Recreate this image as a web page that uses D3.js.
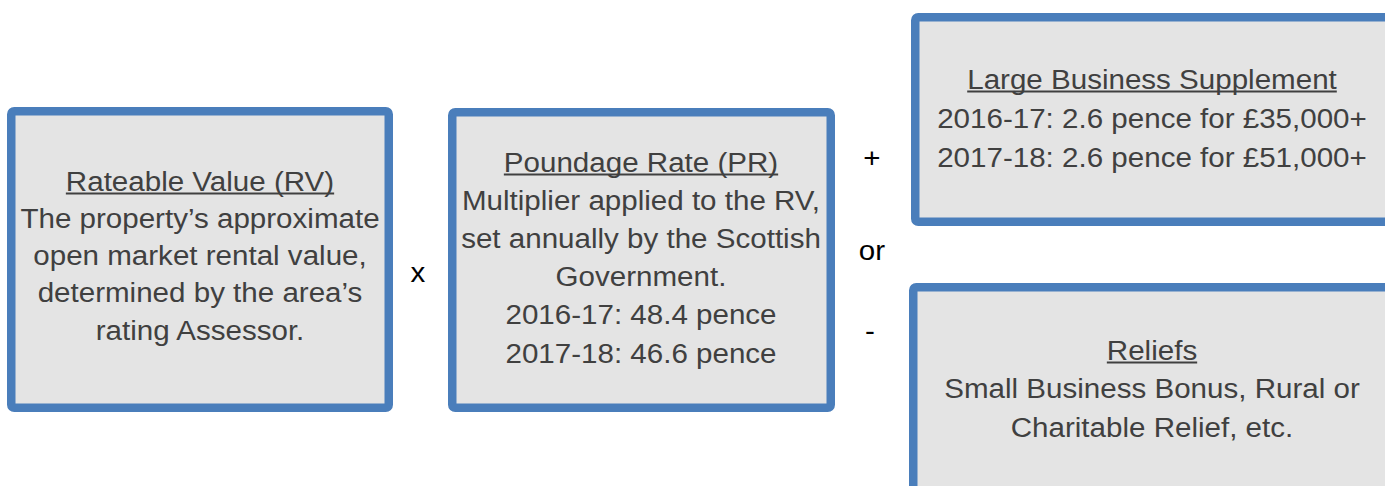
<!DOCTYPE html>
<html>
<head>
<meta charset="utf-8">
<script src="https://cdn.jsdelivr.net/npm/d3@7"></script>
<style>
  body { margin: 0; background: #fff; }
  svg { display: block; }
</style>
</head>
<body>
<div id="chart"></div>
<script>
// box titles and body lines
var titles = ["Rateable Value (RV)", "Poundage Rate (PR)", "Large Business Supplement", "Reliefs"];
var rvLines = ["The property\u2019s approximate", "open market rental value,", "determined by the area\u2019s", "rating Assessor."];
var prLines = ["Multiplier applied to the RV,", "set annually by the Scottish", "Government.", "2016-17: 48.4 pence", "2017-18: 46.6 pence"];
var lbsLines = ["2016-17: 2.6 pence for \u00a335,000+", "2017-18: 2.6 pence for \u00a351,000+"];
var reliefLines = ["Small Business Bonus, Rural or", "Charitable Relief, etc."];
var operators = ["x", "+", "or", "-"];

var width = 1385, height = 486;
var fs = 27, sx = 1.095;   // text looks a bit stretched in the original

var svg = d3.select("#chart").append("svg")
    .attr("width", width)
    .attr("height", height);

// layout: outer edges of each box, first text line and line spacing
var boxes = [
  {x0: 7,   x1: 393,  y0: 107, y1: 412, cx: 200,  ty: 181, lh: 37.3, title: titles[0], lines: rvLines},
  {x0: 448, x1: 835,  y0: 108, y1: 412, cx: 641,  ty: 162, lh: 38.2, title: titles[1], lines: prLines},
  {x0: 911, x1: 1395, y0: 13,  y1: 226, cx: 1152, ty: 79,  lh: 39,   title: titles[2], lines: lbsLines},
  {x0: 909, x1: 1395, y0: 283, y1: 500, cx: 1152, ty: 350, lh: 38.5, title: titles[3], lines: reliefLines}
];
var sw = 8.5;

var g = svg.selectAll(".box")
    .data(boxes)
  .enter().append("g")
    .attr("class", "box");

g.append("rect")
    .attr("x", function(d){ return d.x0 + sw/2; })
    .attr("y", function(d){ return d.y0 + sw/2; })
    .attr("width", function(d){ return d.x1 - d.x0 - sw; })
    .attr("height", function(d){ return d.y1 - d.y0 - sw; })
    .attr("rx", 3)
    .attr("fill", "#e4e4e4")
    .attr("stroke", "#4a7ebb")
    .attr("stroke-width", sw);

g.each(function(d){
  var el = d3.select(this);
  var all = [d.title].concat(d.lines);
  el.selectAll("text")
      .data(all)
    .enter().append("text")
      .attr("transform", function(t, i){ return "translate(" + d.cx + "," + (d.ty + i*d.lh) + ") scale(" + sx + ",1)"; })
      .attr("text-anchor", "middle")
      .attr("dominant-baseline", "central")
      .attr("font-family", "Liberation Sans, Arial, sans-serif")
      .attr("font-size", fs)
      .attr("fill", "#404040")
      .text(function(t){ return t; });
  var tl = el.select("text").node().getComputedTextLength() * sx;
  el.append("line")
      .attr("x1", d.cx - tl/2)
      .attr("x2", d.cx + tl/2)
      .attr("y1", d.ty + 12.5)
      .attr("y2", d.ty + 12.5)
      .attr("stroke", "#404040")
      .attr("stroke-width", 2);
});

var opPos = [[418, 272], [872, 157], [872, 250], [870, 330]];
svg.selectAll(".op")
    .data(operators)
  .enter().append("text")
    .attr("class", "op")
    .attr("transform", function(d, i){ return "translate(" + opPos[i][0] + "," + opPos[i][1] + ") scale(" + sx + ",1)"; })
    .attr("text-anchor", "middle")
    .attr("dominant-baseline", "central")
    .attr("font-family", "Liberation Sans, Arial, sans-serif")
    .attr("font-size", fs)
    .attr("fill", "#000")
    .text(function(d){ return d; });
</script>
</body>
</html>
